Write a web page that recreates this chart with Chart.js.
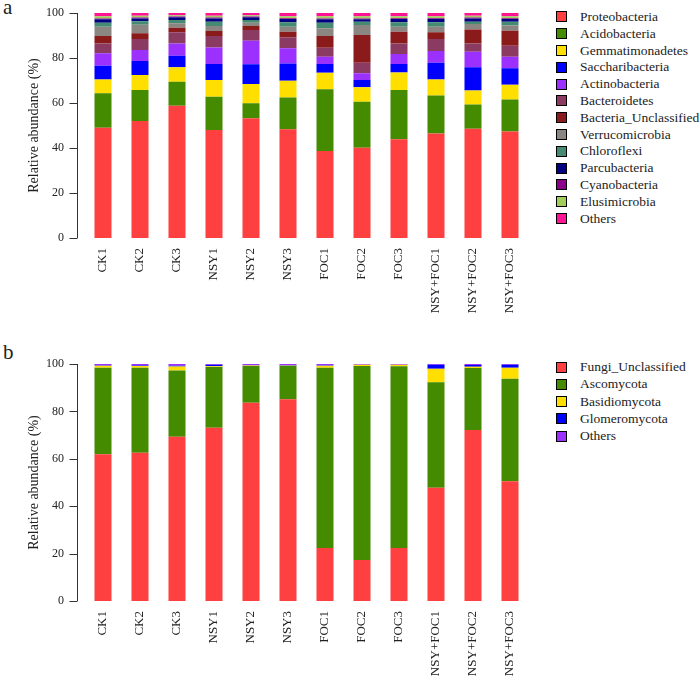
<!DOCTYPE html>
<html>
<head>
<meta charset="utf-8">
<script src="https://cdn.jsdelivr.net/npm/chart.js@4/dist/chart.umd.min.js"></script>
<style>
  body { margin: 0; background: #fff; width: 700px; height: 688px; position: relative; overflow: hidden; font-family: "Liberation Serif", serif; color: #222; }
  .panel { position: absolute; left: 0; width: 540px; }
  #wrapA { top: 0; height: 345px; }
  #wrapB { top: 345px; height: 343px; }
  .tag { position: absolute; left: 3px; font-size: 21px; line-height: 1; }
  .legend { position: absolute; left: 556px; font-size: 13.5px; }
  .legend div { display: flex; align-items: center; white-space: nowrap; }
  .legend span { display: inline-block; width: 9px; height: 9px; border: 1px solid #000; margin-right: 13px; }
</style>
</head>
<body>
<div class="tag" style="top:-3px">a</div>
<div class="tag" style="top:342px">b</div>
<div class="panel" id="wrapA"><canvas id="chartA"></canvas></div>
<div class="panel" id="wrapB"><canvas id="chartB"></canvas></div>
<div class="legend" id="legendA" style="top:8.6px"></div>
<div class="legend" id="legendB" style="top:358.4px"></div>
<script>
const samples = ["CK1", "CK2", "CK3", "NSY1", "NSY2", "NSY3", "FOC1", "FOC2", "FOC3", "NSY+FOC1", "NSY+FOC2", "NSY+FOC3"];
const yTicks = [0, 20, 40, 60, 80, 100];

// a: bacterial phyla (%)
const proteobacteria   = [49.0, 52.0, 58.8, 48.0, 53.2, 48.3, 38.7, 40.1, 43.9, 46.5, 48.6, 47.3];
const acidobacteria    = [15.3, 13.8, 10.7, 14.8, 6.7, 14.1, 27.4, 20.5, 21.9, 16.8, 10.7, 14.3];
const gemmatimonadetes = [6.2, 6.6, 6.4, 7.4, 8.5, 7.5, 7.4, 6.4, 7.8, 7.2, 6.3, 6.5];
const saccharibacteria = [6.1, 6.3, 5.1, 7.1, 8.8, 7.7, 3.8, 3.2, 3.7, 7.4, 10.3, 7.3];
const actinobacteria   = [5.5, 4.9, 5.5, 7.4, 10.5, 6.7, 3.3, 3.0, 4.5, 5.2, 6.9, 5.2];
const bacteroidetes    = [4.4, 4.8, 4.9, 5.1, 4.7, 4.9, 4.0, 4.7, 4.7, 5.3, 3.7, 4.9];
const bactUnclassified = [3.3, 2.6, 2.1, 2.2, 1.8, 2.5, 5.2, 12.3, 5.2, 3.0, 6.2, 6.6];
const verrucomicrobia  = [4.1, 3.8, 1.9, 2.2, 1.5, 2.2, 3.4, 4.5, 2.2, 2.5, 2.4, 2.3];
const chloroflexi      = [1.8, 1.5, 1.5, 1.9, 1.2, 2.0, 2.5, 1.4, 2.0, 2.0, 1.0, 1.7];
const parcubacteria    = [1.5, 1.3, 1.2, 1.5, 1.2, 1.4, 1.5, 1.1, 1.4, 1.4, 1.5, 1.2];
const cyanobacteria    = [0.4, 0.4, 0.3, 0.4, 0.3, 0.4, 0.4, 0.4, 0.4, 0.4, 0.4, 0.4];
const elusimicrobia    = [1.0, 0.8, 0.6, 0.8, 0.6, 0.9, 1.0, 1.0, 0.9, 0.9, 0.8, 0.9];
const bacteriaOthers   = [1.4, 1.2, 1.0, 1.2, 1.0, 1.4, 1.4, 1.4, 1.4, 1.4, 1.2, 1.4];

// b: fungal phyla (%)
const fungiUnclassified = [61.9, 62.6, 69.3, 73.1, 83.7, 85.1, 22.4, 17.3, 22.4, 47.8, 72.2, 50.5];
const ascomycota        = [36.5, 35.8, 28.0, 25.6, 15.5, 14.2, 76.0, 81.9, 76.7, 44.5, 26.1, 43.3];
const basidiomycota     = [0.9, 0.8, 1.6, 0.4, 0.2, 0.1, 0.9, 0.5, 0.6, 5.7, 0.5, 4.6];
const glomeromycota     = [0.2, 0.2, 0.4, 0.6, 0.1, 0.1, 0.2, 0.0, 0.0, 1.7, 0.8, 1.3];
const fungiOthers       = [0.5, 0.6, 0.7, 0.3, 0.5, 0.5, 0.5, 0.3, 0.3, 0.3, 0.4, 0.3];

const bacteriaSeries = [
  ["Proteobacteria", proteobacteria, "#ff4040"],
  ["Acidobacteria", acidobacteria, "#458b00"],
  ["Gemmatimonadetes", gemmatimonadetes, "#ffdf00"],
  ["Saccharibacteria", saccharibacteria, "#0000ff"],
  ["Actinobacteria", actinobacteria, "#9b30ff"],
  ["Bacteroidetes", bacteroidetes, "#8b3a62"],
  ["Bacteria_Unclassified", bactUnclassified, "#8b1a1a"],
  ["Verrucomicrobia", verrucomicrobia, "#8b8682"],
  ["Chloroflexi", chloroflexi, "#458b74"],
  ["Parcubacteria", parcubacteria, "#000080"],
  ["Cyanobacteria", cyanobacteria, "#8b008b"],
  ["Elusimicrobia", elusimicrobia, "#a2cd5a"],
  ["Others", bacteriaOthers, "#ff1493"],
];

const fungiSeries = [
  ["Fungi_Unclassified", fungiUnclassified, "#ff4040"],
  ["Ascomycota", ascomycota, "#458b00"],
  ["Basidiomycota", basidiomycota, "#ffdf00"],
  ["Glomeromycota", glomeromycota, "#0000ff"],
  ["Others", fungiOthers, "#9b30ff"],
];

// R-style y axis, set a little off the plot area
const rAxis = {
  id: "rAxis",
  afterDraw(chart) {
    const y = chart.scales.y;
    const ctx = chart.ctx;
    const x0 = Math.round(chart.chartArea.left - 8) + 0.5;
    ctx.save();
    ctx.strokeStyle = "#333";
    ctx.lineWidth = 1;
    ctx.beginPath();
    ctx.moveTo(x0, y.getPixelForValue(0));
    ctx.lineTo(x0, y.getPixelForValue(100));
    yTicks.forEach((v) => {
      const py = Math.round(y.getPixelForValue(v)) + 0.5;
      ctx.moveTo(x0, py);
      ctx.lineTo(x0 - 8, py);
    });
    ctx.stroke();
    ctx.restore();
  },
};

function fillLegend(id, series, rowHeight) {
  const box = document.getElementById(id);
  series.forEach(([name, , color]) => {
    const row = document.createElement("div");
    row.style.height = rowHeight + "px";
    const sw = document.createElement("span");
    sw.style.background = color;
    row.appendChild(sw);
    row.appendChild(document.createTextNode(name));
    box.appendChild(row);
  });
}

function makeChart(canvasId, series, padTop, xHeight) {
  return new Chart(document.getElementById(canvasId), {
    type: "bar",
    data: {
      labels: samples,
      datasets: series.map(([name, values, color]) => ({
        label: name,
        data: values,
        backgroundColor: color,
        borderWidth: 0,
        categoryPercentage: 1,
        barPercentage: 0.46,
      })),
    },
    options: {
      responsive: true,
      maintainAspectRatio: false,
      animation: false,
      layout: { padding: { top: padTop, right: 11.5, bottom: 0, left: 0 } },
      plugins: { legend: { display: false }, tooltip: { enabled: false } },
      scales: {
        x: {
          stacked: true,
          grid: { display: false, drawTicks: false },
          border: { display: false },
          ticks: {
            autoSkip: false,
            minRotation: 90,
            maxRotation: 90,
            padding: 10,
            color: "#222",
            font: { family: "Liberation Serif", size: 13 },
          },
          afterFit: (s) => { s.height = xHeight; },
        },
        y: {
          stacked: true,
          min: 0,
          max: 100,
          grid: { display: false, drawTicks: false },
          border: { display: false },
          ticks: {
            stepSize: 20,
            padding: 20.5,
            color: "#222",
            font: { family: "Liberation Serif", size: 12 },
          },
          title: {
            display: true,
            text: "Relative abundance (%)",
            color: "#222",
            font: { family: "Liberation Serif", size: 14 },
            padding: { top: 26, bottom: 0 },
          },
          afterFit: (s) => {
            s.width = 84.5;
            // tick padding should not push the plot area down
            s.paddingTop = 0;
            s.paddingBottom = 0;
          },
        },
      },
    },
    plugins: [rAxis],
  });
}

makeChart("chartA", bacteriaSeries, 13, 107);
makeChart("chartB", fungiSeries, 19, 87);
fillLegend("legendA", bacteriaSeries, 16.8);
fillLegend("legendB", fungiSeries, 17.25);
</script>
</body>
</html>
